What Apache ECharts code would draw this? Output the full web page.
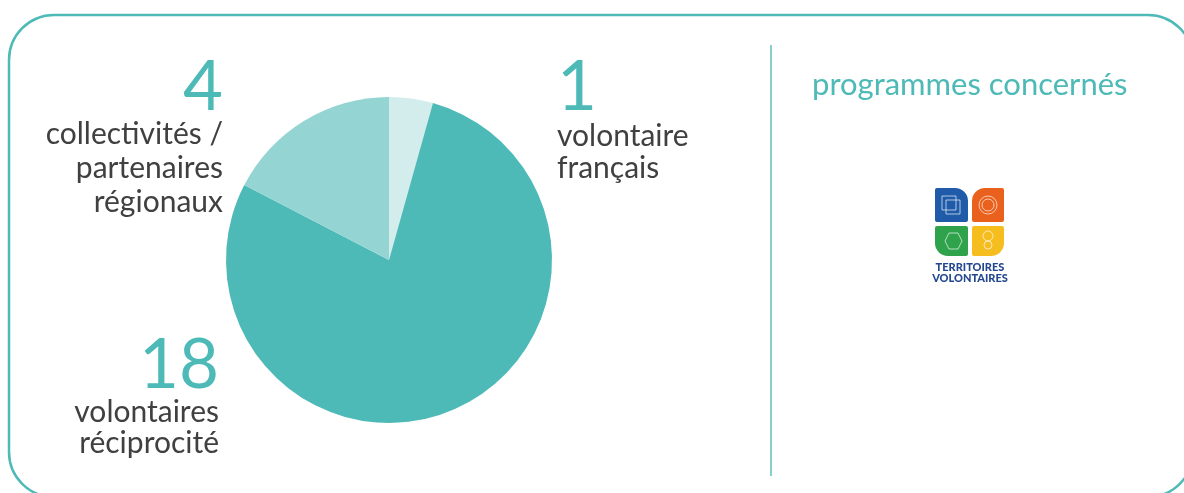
<!DOCTYPE html>
<html>
<head>
<meta charset="utf-8">
<script src="https://cdn.jsdelivr.net/npm/echarts@6/dist/echarts.min.js"></script>
<style>
  html, body { margin: 0; padding: 0; background: #fff; }
  #chart { width: 1184px; height: 493px; }
</style>
</head>
<body>
<div id="chart"></div>
<script>
// donnees
var categories = ['volontaire français', 'volontaires réciprocité', 'collectivités / partenaires régionaux'];
var values = [1, 18, 4];
var labelLines = [['volontaire', 'français'], ['volontaires', 'réciprocité'], ['collectivités /', 'partenaires', 'régionaux']];
var sliceColors = ['#d3ecec', '#4dbab7', '#94d5d3'];
var sideTitle = 'programmes concernés';
var logoLines = ['TERRITOIRES', 'VOLONTAIRES'];

var teal = '#4dbab7';
var grey = '#404040';
var font = 'Lato';

var myChart = echarts.init(document.getElementById('chart'));

// position des etiquettes (chiffre + texte), par tranche
var labelPos = [
  {x: 557, numBase: 110, align: 'left', textBase: [146, 178]},
  {x: 219, numBase: 388, align: 'right', textBase: [422, 453]},
  {x: 223, numBase: 110, align: 'right', textBase: [144, 178, 212]}
];

function midY(base, size) { return base - 0.32 * size; }

var graphics = [];

// cadre arrondi
graphics.push({
  type: 'rect', silent: true,
  shape: {x: 9, y: 15, width: 1184, height: 482, r: 45},
  style: {fill: 'none', stroke: teal, lineWidth: 2.5}
});
// separateur
graphics.push({
  type: 'line', silent: true,
  shape: {x1: 771, y1: 45, x2: 771, y2: 476},
  style: {stroke: '#85d1ce', lineWidth: 2}
});

for (var i = 0; i < values.length; i++) {
  var p = labelPos[i];
  graphics.push({
    type: 'text', silent: true,
    style: {
      text: String(values[i]), x: p.x, y: midY(p.numBase, 69),
      align: p.align, verticalAlign: 'middle',
      font: '69px ' + font, fill: teal
    }
  });
  for (var j = 0; j < labelLines[i].length; j++) {
    graphics.push({
      type: 'text', silent: true,
      style: {
        text: labelLines[i][j], x: p.x, y: midY(p.textBase[j], 30),
        align: p.align, verticalAlign: 'middle',
        font: '30px ' + font, fill: grey
      }
    });
  }
}

// titre a droite
graphics.push({
  type: 'text', silent: true,
  style: {
    text: sideTitle, x: 812, y: midY(95, 31),
    align: 'left', verticalAlign: 'middle',
    font: '31px ' + font, fill: teal
  }
});

// logo territoires volontaires
var tiles = [
  {x: 935, y: 188, w: 33, h: 34, c: '#1f5ba8', r: [2, 13, 2, 2]},
  {x: 972, y: 188, w: 32, h: 34, c: '#e9611c', r: [13, 2, 2, 2]},
  {x: 935, y: 226, w: 33, h: 30, c: '#2ea34c', r: [2, 2, 2, 13]},
  {x: 972, y: 226, w: 32, h: 30, c: '#f6bd1e', r: [2, 2, 13, 2]}
];
tiles.forEach(function (t) {
  graphics.push({
    type: 'rect', silent: true,
    shape: {x: t.x, y: t.y, width: t.w, height: t.h, r: t.r},
    style: {fill: t.c}
  });
});
var iconStroke = {fill: 'none', stroke: 'rgba(255,255,255,0.65)', lineWidth: 1};
graphics.push({type: 'rect', silent: true, shape: {x: 942, y: 196, width: 14, height: 14}, style: iconStroke});
graphics.push({type: 'rect', silent: true, shape: {x: 946, y: 200, width: 14, height: 14}, style: iconStroke});
graphics.push({type: 'circle', silent: true, shape: {cx: 988, cy: 205, r: 9}, style: iconStroke});
graphics.push({type: 'circle', silent: true, shape: {cx: 988, cy: 205, r: 6}, style: iconStroke});
graphics.push({
  type: 'polygon', silent: true,
  shape: {points: [[945, 241], [949, 233], [958, 233], [962, 241], [958, 249], [949, 249]]},
  style: iconStroke
});
graphics.push({type: 'circle', silent: true, shape: {cx: 988, cy: 236, r: 5}, style: iconStroke});
graphics.push({type: 'circle', silent: true, shape: {cx: 988, cy: 245, r: 4}, style: iconStroke});
for (var k = 0; k < logoLines.length; k++) {
  graphics.push({
    type: 'text', silent: true,
    style: {
      text: logoLines[k], x: 970, y: 267 + k * 11,
      align: 'center', verticalAlign: 'middle',
      font: '900 11px ' + font, fill: '#24488f'
    }
  });
}

var option = {
  backgroundColor: '#fff',
  animation: false,
  tooltip: {show: false},
  graphic: graphics,
  series: [{
    type: 'pie',
    center: [389, 260],
    radius: 163,
    startAngle: 90,
    clockwise: true,
    label: {show: false},
    labelLine: {show: false},
    emphasis: {disabled: true},
    itemStyle: {borderWidth: 0},
    data: categories.map(function (name, idx) {
      return {name: name, value: values[idx], itemStyle: {color: sliceColors[idx]}};
    })
  }]
};
myChart.setOption(option);
</script>
</body>
</html>
